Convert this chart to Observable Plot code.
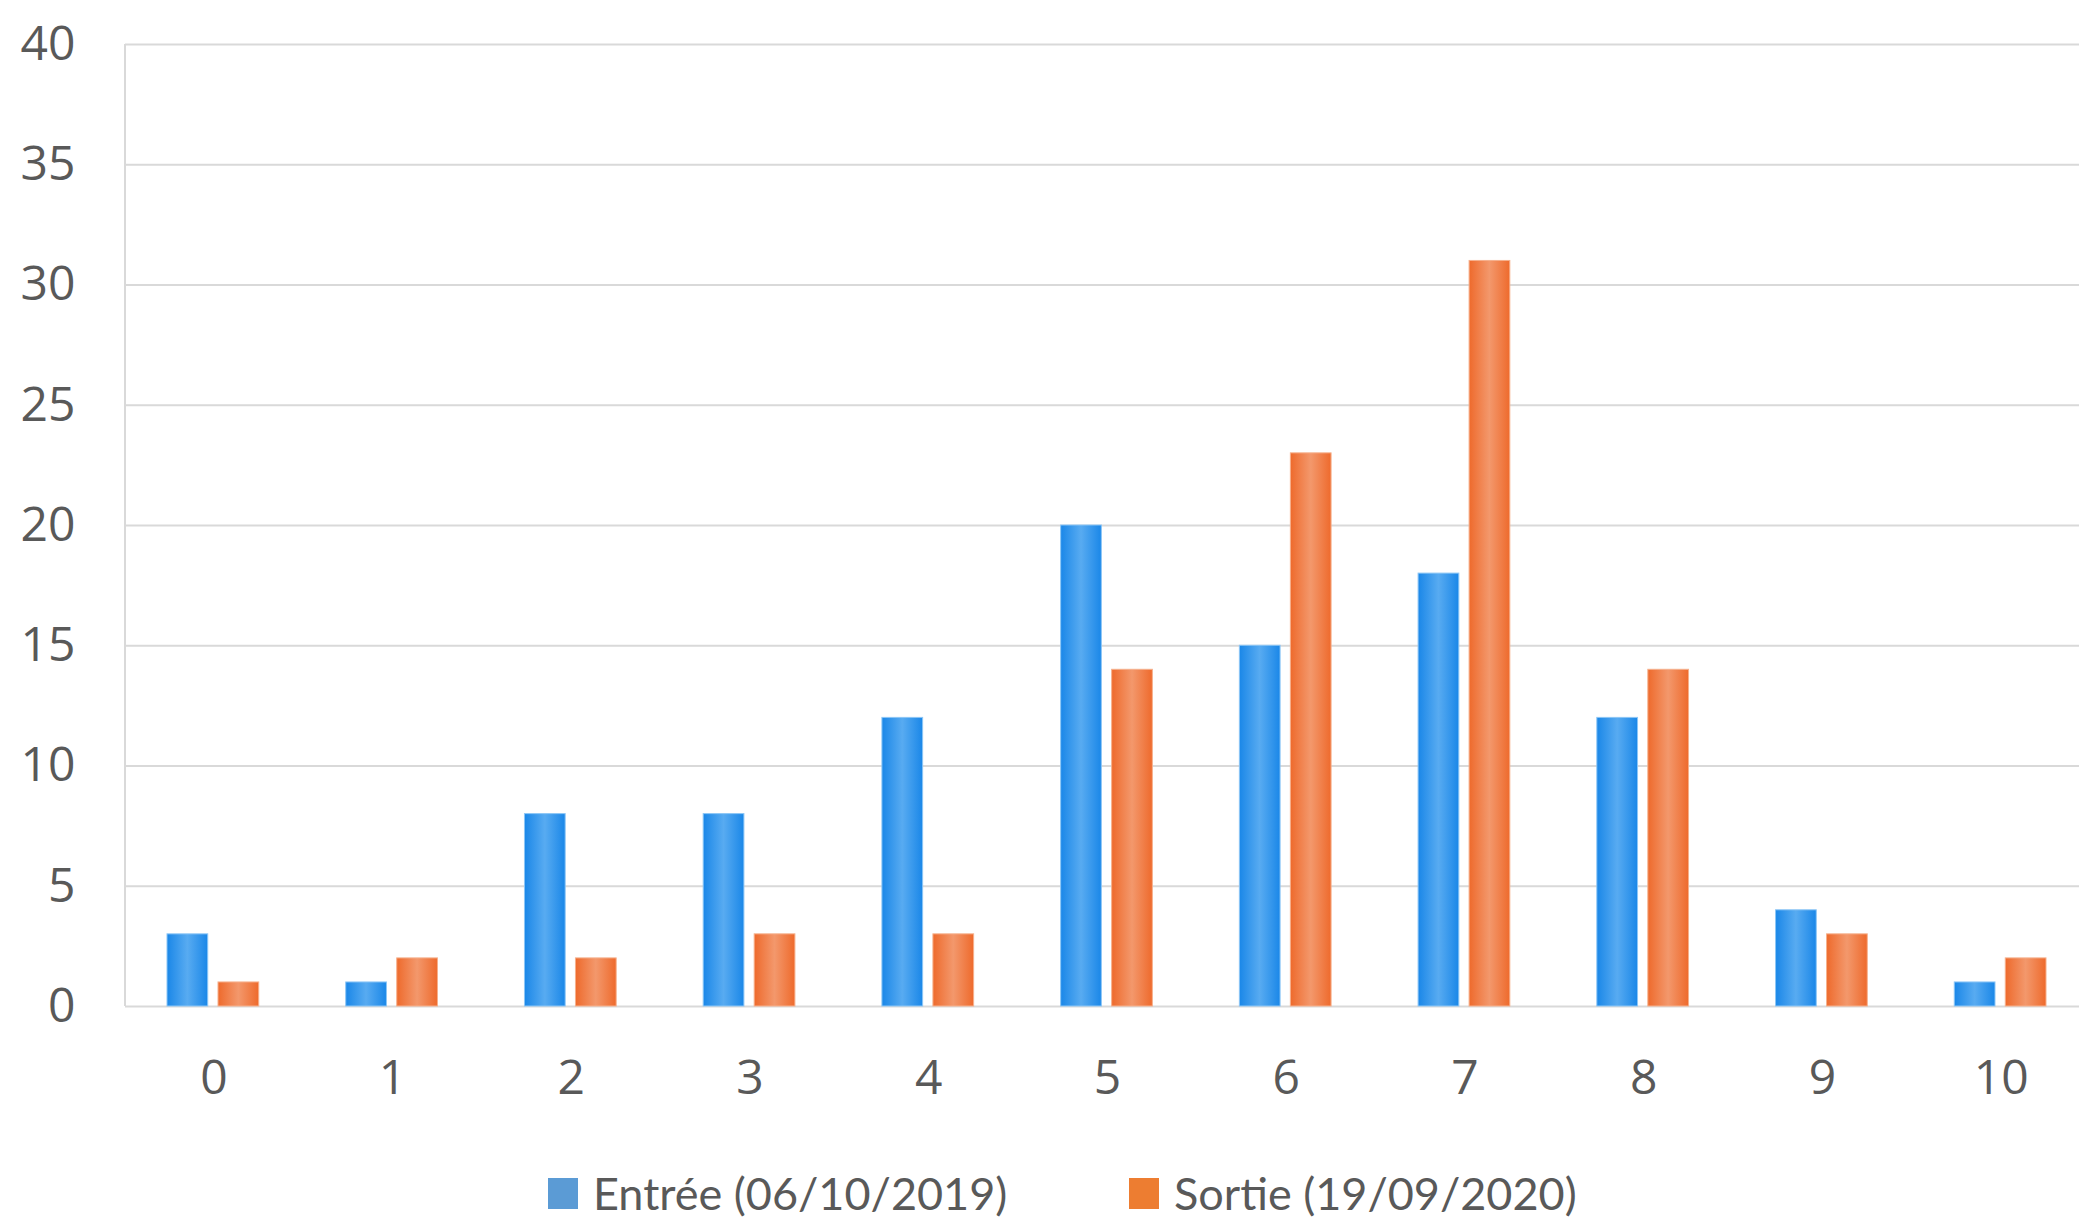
<!DOCTYPE html>
<html><head><meta charset="utf-8">
<script src="https://cdn.jsdelivr.net/npm/d3@7"></script>
<script src="https://cdn.jsdelivr.net/npm/@observablehq/plot@0.6"></script>
<style>
body{margin:0;background:#fff;position:relative;width:2079px;height:1217px;overflow:hidden}
#legend{position:absolute;left:0;top:1173px;width:2079px;height:40px;font-family:Lato,"Open Sans",sans-serif;font-size:45px;color:#595959}
.item{position:absolute;top:0;height:40px;display:flex;align-items:center;white-space:nowrap}
.sw{width:30px;height:31px;margin-right:15px;flex:none}
</style></head><body>
<div id="chart"></div>
<div id="legend"></div>
<script>
const categories = ["0","1","2","3","4","5","6","7","8","9","10"];
const entree = [3, 1, 8, 8, 12, 20, 15, 18, 12, 4, 1];
const sortie = [1, 2, 2, 3, 3, 14, 23, 31, 14, 3, 2];
const seriesNames = ["Entrée (06/10/2019)", "Sortie (19/09/2020)"];
const seriesColors = ["#5b9bd5", "#ed7d31"];
const yTicks = [0, 5, 10, 15, 20, 25, 30, 35, 40];

const rowsE = categories.map((c, i) => ({cat: c, series: seriesNames[0], value: entree[i]}));
const rowsS = categories.map((c, i) => ({cat: c, series: seriesNames[1], value: sortie[i]}));

const NS = "http://www.w3.org/2000/svg";
function gradient(id, edge, mid) {
  const g = document.createElementNS(NS, "linearGradient");
  g.setAttribute("id", id);
  g.setAttribute("x1", "0"); g.setAttribute("x2", "1");
  g.setAttribute("y1", "0"); g.setAttribute("y2", "0");
  [[0, edge], [0.5, mid], [1, edge]].forEach(([o, c]) => {
    const s = document.createElementNS(NS, "stop");
    s.setAttribute("offset", o);
    s.setAttribute("stop-color", c);
    g.appendChild(s);
  });
  return g;
}
const defsMark = () => {
  const d = document.createElementNS(NS, "defs");
  d.appendChild(gradient("gBlue", "#1a87e8", "#58abf1"));
  d.appendChild(gradient("gOrange", "#ee6a2c", "#f3986c"));
  return d;
};
const leftLine = (index, scales, values, dim) => {
  const l = document.createElementNS(NS, "line");
  l.setAttribute("x1", dim.marginLeft); l.setAttribute("x2", dim.marginLeft);
  l.setAttribute("y1", scales.y(yTicks[yTicks.length - 1]));
  l.setAttribute("y2", scales.y(yTicks[0]));
  l.setAttribute("stroke", "#d9d9d9");
  l.setAttribute("stroke-width", 2);
  return l;
};

const chart = Plot.plot({
  width: 2079,
  height: 1140,
  marginLeft: 125,
  marginRight: 0,
  marginTop: 44,
  marginBottom: 134,
  style: {fontFamily: "'Open Sans', sans-serif", color: "#595959", background: "white", overflow: "visible"},
  x: {domain: categories, range: [124, 2090], padding: 0, round: false},
  y: {domain: [0, 40]},
  marks: [
    defsMark,
    Plot.ruleY(yTicks, {stroke: "#d9d9d9", strokeWidth: 2}),
    leftLine,
    Plot.barY(rowsE, {x: "cat", y: "value", fill: "url(#gBlue)", stroke: "#8cc6f6", strokeWidth: 1, insetLeft: 43, insetRight: 95}),
    Plot.barY(rowsS, {x: "cat", y: "value", fill: "url(#gOrange)", stroke: "#f6b08c", strokeWidth: 1, insetLeft: 94, insetRight: 44}),
    Plot.axisY({ticks: yTicks, tickSize: 0, tickPadding: 50, fontSize: 48, label: null}),
    Plot.axisX({tickSize: 0, tickPadding: 53, fontSize: 48, label: null})
  ]
});
document.getElementById("chart").appendChild(chart);

const legend = document.getElementById("legend");
const lefts = [548, 1129];
seriesNames.forEach((name, i) => {
  const it = document.createElement("div");
  it.className = "item";
  it.style.left = lefts[i] + "px";
  const sw = document.createElement("span");
  sw.className = "sw";
  sw.style.background = seriesColors[i];
  const tx = document.createElement("span");
  tx.textContent = name;
  it.appendChild(sw); it.appendChild(tx);
  legend.appendChild(it);
});
</script>
</body></html>
